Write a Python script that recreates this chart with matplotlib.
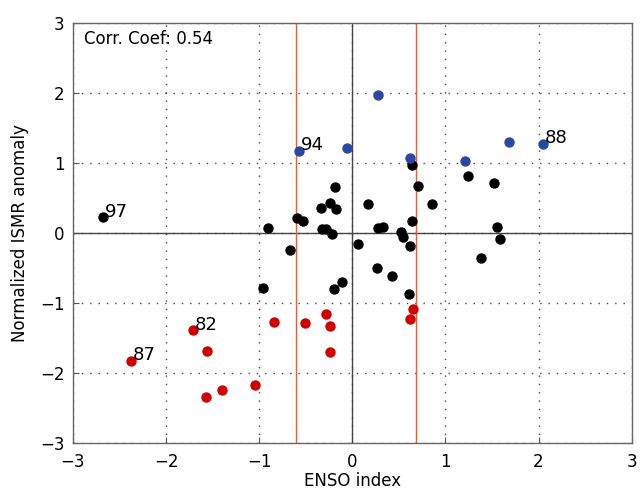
import matplotlib
matplotlib.use("Agg")
import matplotlib.pyplot as plt
import numpy as np

# ENSO index vs normalized ISMR anomaly, grouped by class
black_x = [-0.19, -0.24, -0.34, -0.18, -0.59, -0.53, -0.91, -0.33, -0.28, -0.22,
           0.64, 1.24, 1.52, 0.71, 0.17, 0.86, 0.64, 0.28, 0.33, 1.55, 0.52, 0.54,
           1.59, 0.06, 0.62, 1.38, 0.27, 0.43, -0.11, 0.61, -0.67, -0.96, -0.20,
           -2.68]
black_y = [0.66, 0.43, 0.36, 0.35, 0.21, 0.17, 0.07, 0.06, 0.06, -0.01,
           0.97, 0.82, 0.72, 0.67, 0.41, 0.41, 0.18, 0.08, 0.09, 0.09, 0.01, -0.06,
           -0.08, -0.15, -0.19, -0.36, -0.50, -0.61, -0.70, -0.87, -0.24, -0.79, -0.80,
           0.23]

blue_x = [-0.57, -0.06, 0.28, 0.62, 1.21, 1.68, 2.05]
blue_y = [1.18, 1.22, 1.97, 1.08, 1.03, 1.30, 1.28]

red_x = [0.65, 0.62, -0.84, -0.51, -0.28, -0.24, -0.24, -1.71, -1.56, -2.38,
         -1.57, -1.40, -1.04]
red_y = [-1.09, -1.23, -1.27, -1.29, -1.15, -1.33, -1.70, -1.39, -1.68, -1.82,
         -2.34, -2.24, -2.17]

# labelled years
year_labels = ["97", "94", "88", "87", "82"]
year_x = [-2.68, -0.57, 2.05, -2.38, -1.71]
year_y = [0.23, 1.18, 1.28, -1.82, -1.39]

thresholds = [-0.61, 0.68]
corr_coef = 0.54

fig = plt.figure(figsize=(6.4, 4.93), dpi=100)
ax = fig.add_axes([0.114, 0.101, 0.873, 0.852])

ax.set_xlim(-3, 3)
ax.set_ylim(-3, 3)
ticks = np.arange(-3, 4, 1)
tick_labels = ['\u22123', '\u22122', '\u22121', '0', '1', '2', '3']
ax.set_xticks(ticks)
ax.set_yticks(ticks)
ax.set_xticklabels(tick_labels)
ax.set_yticklabels(tick_labels)
ax.grid(True, linestyle=(0, (1, 5)), color='#444444', linewidth=1.0)
ax.tick_params(direction='in', length=4, labelsize=12, color='#555555')
ax.tick_params(axis='x', pad=7)
ax.tick_params(axis='y', pad=6)
for sp in ax.spines.values():
    sp.set_color('#666666')
    sp.set_linewidth(1.0)

ax.axhline(0, color='#444444', linewidth=1.0)
ax.axvline(0, color='#444444', linewidth=1.0)
for t in thresholds:
    ax.axvline(t, color='#d9623f', linewidth=1.0)

ax.scatter(black_x, black_y, s=42, color='black', zorder=3)
ax.scatter(blue_x, blue_y, s=42, color='#2b48a0', zorder=3)
ax.scatter(red_x, red_y, s=42, color='#d00000', zorder=3)

for lab, x, y in zip(year_labels, year_x, year_y):
    ax.text(x + 0.02, y - 0.05, lab, fontsize=13, ha='left', va='bottom', zorder=4)

ax.text(-2.88, 2.9, f'Corr. Coef: {corr_coef:.2f}', fontsize=12, ha='left', va='top')

ax.set_xlabel('ENSO index', fontsize=12, labelpad=1)
ax.set_ylabel('Normalized ISMR anomaly', fontsize=12, labelpad=8)

fig.savefig('out.png', dpi=100)
